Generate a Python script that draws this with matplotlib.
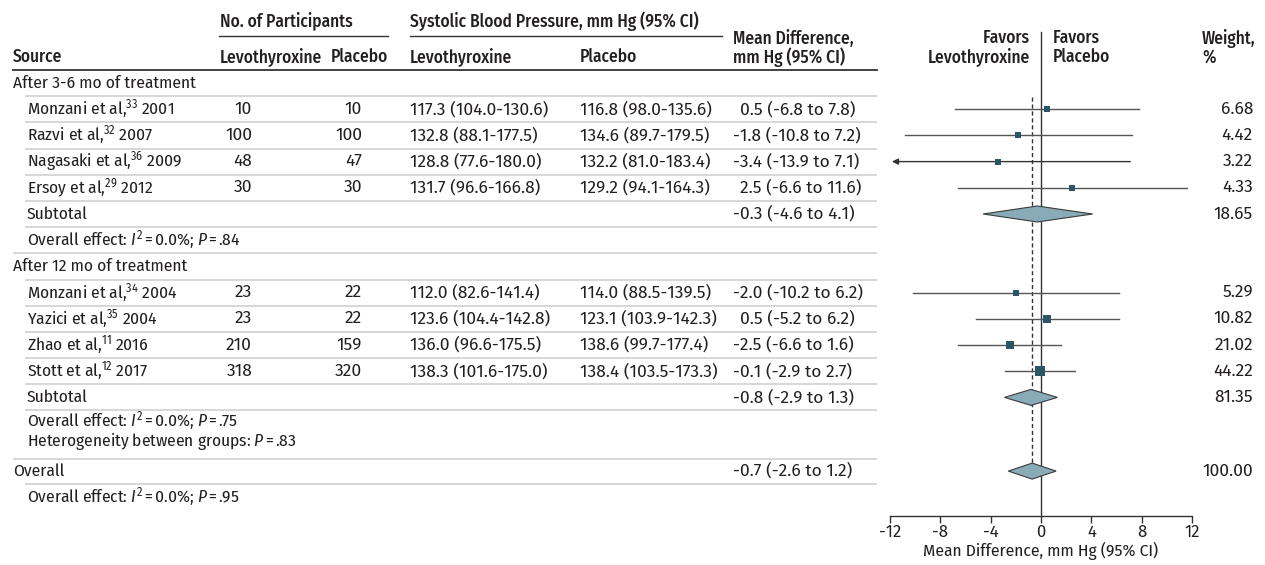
import matplotlib
matplotlib.use("Agg")
import matplotlib.pyplot as plt

FAM = ["Fira Sans Condensed", "IBM Plex Sans Condensed", "Roboto Condensed", "DejaVu Sans"]
NUMFAM = ["Fira Sans", "Liberation Sans", "DejaVu Sans"]
plt.rcParams['font.family'] = FAM
plt.rcParams['axes.unicode_minus'] = False
plt.rcParams['mathtext.fontset'] = 'custom'
plt.rcParams['mathtext.rm'] = FAM[0]
plt.rcParams['mathtext.it'] = FAM[0] + ':italic'
plt.rcParams['mathtext.bf'] = FAM[0] + ':bold'

# ---------------- data ----------------
groups = ["After 3-6 mo of treatment", "After 12 mo of treatment"]
sources = ["Monzani et al,$^{33}$ 2001", "Razvi et al,$^{32}$ 2007",
           "Nagasaki et al,$^{36}$ 2009", "Ersoy et al,$^{29}$ 2012",
           "Monzani et al,$^{34}$ 2004", "Yazici et al,$^{35}$ 2004",
           "Zhao et al,$^{11}$ 2016", "Stott et al,$^{12}$ 2017"]
study_group = [0, 0, 0, 0, 1, 1, 1, 1]
n_levo = [10, 100, 48, 30, 23, 23, 210, 318]
n_plac = [10, 100, 47, 30, 22, 22, 159, 320]
sbp_levo = ["117.3 (104.0-130.6)", "132.8 (88.1-177.5)", "128.8 (77.6-180.0)",
            "131.7 (96.6-166.8)", "112.0 (82.6-141.4)", "123.6 (104.4-142.8)",
            "136.0 (96.6-175.5)", "138.3 (101.6-175.0)"]
sbp_plac = ["116.8 (98.0-135.6)", "134.6 (89.7-179.5)", "132.2 (81.0-183.4)",
            "129.2 (94.1-164.3)", "114.0 (88.5-139.5)", "123.1 (103.9-142.3)",
            "138.6 (99.7-177.4)", "138.4 (103.5-173.3)"]
md = [0.5, -1.8, -3.4, 2.5, -2.0, 0.5, -2.5, -0.1]
md_lo = [-6.8, -10.8, -13.9, -6.6, -10.2, -5.2, -6.6, -2.9]
md_hi = [7.8, 7.2, 7.1, 11.6, 6.2, 6.2, 1.6, 2.7]
weights = [6.68, 4.42, 3.22, 4.33, 5.29, 10.82, 21.02, 44.22]

sub_md = [-0.3, -0.8]
sub_lo = [-4.6, -2.9]
sub_hi = [4.1, 1.3]
sub_w = [18.65, 81.35]
sub_stats = [("0.0%", ".84"), ("0.0%", ".75")]
between_p = ".83"

overall_md = -0.7
overall_lo = -2.6
overall_hi = 1.2
overall_w = 100.00
overall_stats = ("0.0%", ".95")

xticks = [-12, -8, -4, 0, 4, 8, 12]

# ---------------- layout ----------------
W, H = 1265, 565
fig = plt.figure(figsize=(W / 100, H / 100), dpi=100)
tab = fig.add_axes([0, 0, 1, 1])
tab.set_xlim(0, W)
tab.set_ylim(H, 0)
tab.axis('off')

X_END = 877
XL0, XL1 = 13, 25
FS = 12.5
NFS = 12.5
TC = '#231f20'
GRID = '#d4d4d4'

ax = fig.add_axes([890 / W, 1 - 516 / H, 302 / W, 516 / H])
ax.set_xlim(-12, 12)
ax.set_ylim(516, 0)
ax.patch.set_alpha(0)
for s in ['top', 'left', 'right']:
    ax.spines[s].set_visible(False)
ax.spines['bottom'].set_color('#333333')
ax.spines['bottom'].set_linewidth(1.0)
ax.set_yticks([])
ax.set_xticks(xticks)
ax.set_xticklabels([str(t) for t in xticks], family=NUMFAM, fontsize=12)
ax.tick_params(axis='x', direction='out', length=5, width=1.0, color='#333333',
               labelcolor=TC, pad=1)
ax.set_xlabel("Mean Difference, mm Hg (95% CI)", fontsize=FS, color=TC, labelpad=1)


def txt(x, y, s, ha='left', weight='normal', num=False, **kw):
    tab.text(x, y, s, ha=ha, va='center', fontsize=NFS if num else FS, color=TC,
             fontweight=weight, family=NUMFAM if num else FAM, **kw)


def hline(y, x0, color=GRID, lw=1.3):
    tab.plot([x0, X_END], [y, y], color=color, lw=lw, solid_capstyle='butt')


def stat_str(i2, p):
    return (f"Overall effect: $\\mathit{{I}}^{{2}}\\,$=$\\,${i2}; "
            f"$\\mathit{{P}}\\,$=$\\,${p}")


# headers
HW = 'medium'
txt(220, 21, "No. of Participants", weight=HW)
tab.plot([219, 388], [36, 36], color='#333333', lw=1.0)
txt(410, 21, "Systolic Blood Pressure, mm Hg (95% CI)", weight=HW)
tab.plot([410, 722], [36, 36], color='#333333', lw=1.0)
txt(13, 57, "Source", weight=HW)
txt(220, 57, "Levothyroxine", weight=HW)
txt(388, 57, "Placebo", ha='right', weight=HW)
txt(410, 57, "Levothyroxine", weight=HW)
txt(580, 57, "Placebo", weight=HW)
txt(733, 39, "Mean Difference,", weight=HW)
txt(733, 57, "mm Hg (95% CI)", weight=HW)
txt(1030, 38, "Favors", ha='right', weight=HW)
txt(1030, 57, "Levothyroxine", ha='right', weight=HW)
txt(1053, 38, "Favors", weight=HW)
txt(1053, 57, "Placebo", weight=HW)
txt(1202, 38, "Weight,", weight=HW)
txt(1202, 57, "%", weight=HW)
tab.plot([13, X_END], [70, 70], color='#333333', lw=1.3)


def md_str(m, l, h):
    return f"{m:.1f} ({l:.1f} to {h:.1f})"


def md_x(m):
    return 733 if m < 0 else 740


PITCH = 26.2
y = 83.0
study_rows = []
sub_rows = []
lines = []
for g, gname in enumerate(groups):
    txt(XL0, y, gname)
    lines.append((y + PITCH / 2, XL1))
    y += PITCH
    for i in range(len(sources)):
        if study_group[i] != g:
            continue
        study_rows.append(y)
        txt(27, y, sources[i])
        txt(252, y, str(n_levo[i]), ha='right', num=True)
        txt(362, y, str(n_plac[i]), ha='right', num=True)
        txt(410, y, sbp_levo[i], num=True)
        txt(580, y, sbp_plac[i], num=True)
        txt(md_x(md[i]), y, md_str(md[i], md_lo[i], md_hi[i]), num=True)
        txt(1253, y, f"{weights[i]:.2f}", ha='right', num=True)
        lines.append((y + PITCH / 2, XL1))
        y += PITCH
    sub_rows.append(y)
    txt(27, y, "Subtotal")
    txt(md_x(sub_md[g]), y, md_str(sub_md[g], sub_lo[g], sub_hi[g]), num=True)
    txt(1253, y, f"{sub_w[g]:.2f}", ha='right', num=True)
    lines.append((y + PITCH / 2, XL1))
    y += PITCH
    i2, p = sub_stats[g]
    if g < len(groups) - 1:
        txt(27, y, stat_str(i2, p))
        lines.append((y + PITCH / 2, XL0))
        y += PITCH
    else:
        txt(27, y - 2.5, stat_str(i2, p))
        txt(27, y + 17.5, f"Heterogeneity between groups: $\\mathit{{P}}\\,$=$\\,${between_p}")
        lines.append((y + 35, XL0))
        y += 47.5

overall_y = y
txt(XL0, y, "Overall")
txt(md_x(overall_md), y, md_str(overall_md, overall_lo, overall_hi), num=True)
txt(1253, y, f"{overall_w:.2f}", ha='right', num=True)
lines.append((y + PITCH / 2, XL1))
y += PITCH
txt(27, y, stat_str(*overall_stats))

for ly, x0 in lines:
    hline(ly, x0)

# ---------------- forest ----------------
ax.plot([0, 0], [32, 516], color='#333333', lw=1.0, zorder=2)
ax.plot([overall_md, overall_md], [97, overall_y - 8], color='#333333', lw=1.0,
        ls=(0, (3, 2)), zorder=2)

SQ = '#2a5666'
CI = '#555555'
for i in range(len(sources)):
    yy = study_rows[i]
    lo = md_lo[i]
    if lo < -12:
        ax.annotate('', xy=(-11.85, yy), xytext=(md_hi[i], yy),
                    arrowprops=dict(arrowstyle='-|>', color='#333333', lw=1.0,
                                    mutation_scale=9, shrinkA=0, shrinkB=0),
                    zorder=3)
    else:
        ax.plot([lo, md_hi[i]], [yy, yy], color=CI, lw=1.0, zorder=3)
    px = 3.8 + weights[i] ** 0.5
    ax.plot([md[i]], [yy], marker='s', ms=px * 0.72, color=SQ, mec=SQ, mew=0,
            zorder=4)


def diamond(m, l, h, yy, hh=8):
    ax.fill([l, m, h, m, l], [yy, yy - hh, yy, yy + hh, yy], facecolor='#89abb8',
            edgecolor='#3a3a3a', lw=0.8, zorder=5)


for g in range(len(groups)):
    diamond(sub_md[g], sub_lo[g], sub_hi[g], sub_rows[g])
diamond(overall_md, overall_lo, overall_hi, overall_y)

fig.savefig("out.png", dpi=100)
